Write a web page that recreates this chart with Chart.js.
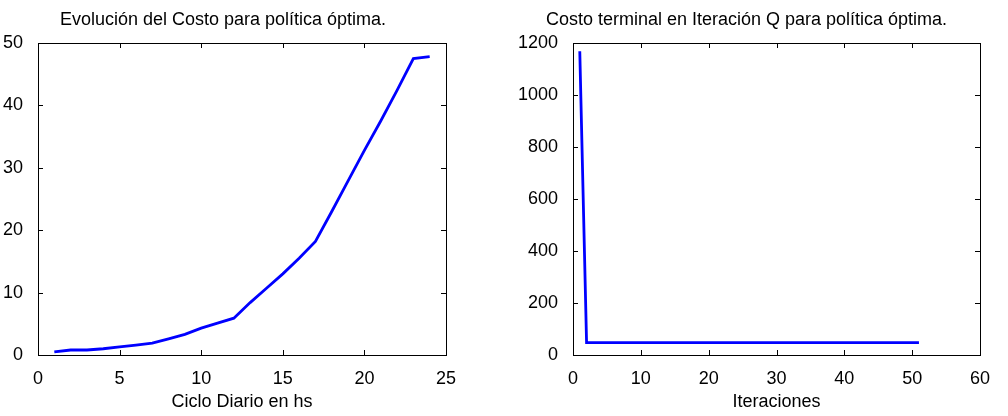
<!DOCTYPE html>
<html>
<head>
<meta charset="utf-8">
<script src="https://cdn.jsdelivr.net/npm/chart.js"></script>
<style>
  body { margin: 0; background: #fff; width: 1008px; height: 416px; overflow: hidden; }
  .box { position: absolute; top: 0; height: 416px; }
</style>
</head>
<body>
<div class="box" style="left:0;width:500px"><canvas id="c1"></canvas></div>
<div class="box" style="left:496px;width:512px"><canvas id="c2"></canvas></div>
<script>
// left plot: cost per hour of the day
var horas = [1, 2, 3, 4, 5, 6, 7, 8, 9, 10, 11, 12, 13, 14, 15, 16, 17, 18, 19, 20, 21, 22, 23, 24];
var costo = [0.5, 0.8, 0.8, 1.0, 1.3, 1.6, 1.9, 2.6, 3.3, 4.3, 5.1, 5.9, 8.4, 10.7, 13.0, 15.5, 18.2, 23.0, 27.9, 32.8, 37.5, 42.4, 47.5, 47.8];
var xTicks1 = [0, 5, 10, 15, 20, 25];
var yTicks1 = [0, 10, 20, 30, 40, 50];

// right plot: terminal cost per iteration
var iteraciones = [1, 2, 3, 4, 5, 6, 7, 8, 9, 10, 11, 12, 13, 14, 15, 16, 17, 18, 19, 20, 21, 22, 23, 24, 25, 26,
  27, 28, 29, 30, 31, 32, 33, 34, 35, 36, 37, 38, 39, 40, 41, 42, 43, 44, 45, 46, 47, 48, 49, 50, 51];
var costoTerminal = [1168, 47.8, 47.8, 47.8, 47.8, 47.8, 47.8, 47.8, 47.8, 47.8, 47.8, 47.8, 47.8, 47.8, 47.8, 47.8, 47.8,
  47.8, 47.8, 47.8, 47.8, 47.8, 47.8, 47.8, 47.8, 47.8, 47.8, 47.8, 47.8, 47.8, 47.8, 47.8, 47.8, 47.8, 47.8, 47.8, 47.8,
  47.8, 47.8, 47.8, 47.8, 47.8, 47.8, 47.8, 47.8, 47.8, 47.8, 47.8, 47.8, 47.8, 47.8];
var xTicks2 = [0, 10, 20, 30, 40, 50, 60];
var yTicks2 = [0, 200, 400, 600, 800, 1000, 1200];

var FONT = 'Liberation Sans, Arial, sans-serif';

// matlab style box with ticks pointing inwards + title over the axes
var matlabAxes = {
  id: 'matlabAxes',
  afterDraw: function(chart) {
    var c = chart.ctx, a = chart.chartArea;
    var xs = chart.scales.x, ys = chart.scales.y;
    var opt = chart.options.plugins.matlabAxes;
    var len = 5;
    c.save();
    c.strokeStyle = '#000';
    c.lineWidth = 1;
    c.strokeRect(Math.round(a.left) + 0.5, Math.round(a.top) + 0.5, Math.round(a.right - a.left), Math.round(a.bottom - a.top));
    c.beginPath();
    xs.ticks.forEach(function(t) {
      var px = Math.round(xs.getPixelForValue(t.value)) + 0.5;
      c.moveTo(px, a.bottom); c.lineTo(px, a.bottom - len);
      c.moveTo(px, a.top); c.lineTo(px, a.top + len);
    });
    ys.ticks.forEach(function(t) {
      var py = Math.round(ys.getPixelForValue(t.value)) + 0.5;
      c.moveTo(a.left, py); c.lineTo(a.left + len, py);
      c.moveTo(a.right, py); c.lineTo(a.right - len, py);
    });
    c.stroke();
    c.fillStyle = '#000';
    c.font = '18px ' + FONT;
    c.textAlign = 'center';
    c.textBaseline = 'middle';
    c.fillText(opt.text, (a.left + a.right) / 2 + opt.shift, 20);
    c.restore();
  }
};

function makeChart(id, xs, ys, xt, yt, xmax, ymax, title, shift, xlabel, yWidth, padRight) {
  var pts = xs.map(function(v, i) { return { x: v, y: ys[i] }; });
  return new Chart(document.getElementById(id), {
    type: 'line',
    data: {
      datasets: [{
        data: pts,
        borderColor: '#0000ff',
        borderWidth: 2.8,
        pointRadius: 0,
        fill: false,
        tension: 0
      }]
    },
    options: {
      responsive: true,
      maintainAspectRatio: false,
      animation: false,
      events: [],
      layout: { padding: { top: 43, right: padRight, bottom: 0, left: 0 } },
      plugins: {
        legend: { display: false },
        tooltip: { enabled: false },
        matlabAxes: { text: title, shift: shift }
      },
      scales: {
        x: {
          type: 'linear',
          min: 0, max: xmax,
          afterBuildTicks: function(s) { s.ticks = xt.map(function(v) { return { value: v }; }); },
          afterFit: function(s) { s.height = 61; },
          grid: { display: false },
          border: { display: false },
          ticks: { color: '#000', padding: 5, font: { family: FONT, size: 18 }, maxRotation: 0,
            callback: function(v) { return String(v); } },
          title: { display: true, text: xlabel, color: '#000', padding: { top: 0, bottom: 3 }, font: { family: FONT, size: 18 } }
        },
        y: {
          type: 'linear',
          min: 0, max: ymax,
          afterBuildTicks: function(s) { s.ticks = yt.map(function(v) { return { value: v }; }); },
          afterFit: function(s) { s.width = yWidth; },
          grid: { display: false },
          border: { display: false },
          ticks: { color: '#000', padding: 7, font: { family: FONT, size: 18 },
            callback: function(v) { return String(v); } }
        }
      }
    },
    plugins: [matlabAxes]
  });
}

makeChart('c1', horas, costo, xTicks1, yTicks1, 25, 50,
  'Evolución del Costo para política óptima.', -19, 'Ciclo Diario en hs', 38, 54);
makeChart('c2', iteraciones, costoTerminal, xTicks2, yTicks2, 60, 1200,
  'Costo terminal en Iteración Q para política óptima.', -30, 'Iteraciones', 77, 28);
</script>
</body>
</html>
